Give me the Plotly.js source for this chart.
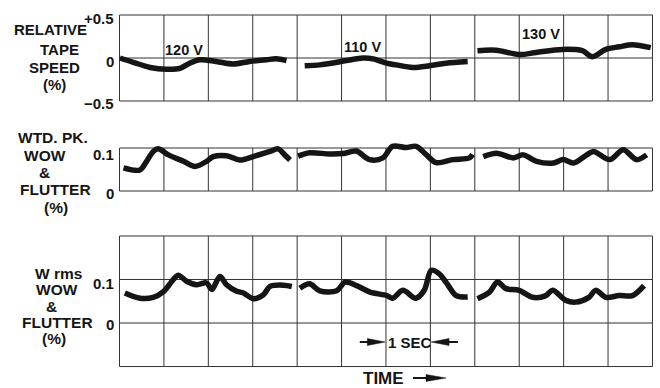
<!DOCTYPE html>
<html>
<head>
<meta charset="utf-8">
<script src="https://cdn.plot.ly/plotly-3.0.1.min.js"></script>
<style>html,body{margin:0;padding:0;background:#fff;}#chart{width:660px;height:388px;}</style>
</head>
<body>
<div id="chart"></div>
<script>
// ---------- DATA (time in seconds, values in %) ----------
const segmentNames = ['120 V', '110 V', '130 V'];

// Relative tape speed (%)
const tSpeed120 = [0.01,0.31,0.69,1.06,1.36,1.58,1.81,2.18,2.56,2.93,3.31,3.53,3.76];
const speed120  = [0.00,-0.05,-0.11,-0.13,-0.12,-0.06,-0.02,-0.04,-0.07,-0.04,-0.02,-0.01,-0.03];
const tSpeed110 = [4.17,4.51,4.73,5.11,5.48,5.71,6.01,6.23,6.60,6.98,7.35,7.84];
const speed110  = [-0.09,-0.08,-0.065,-0.03,0.00,-0.01,-0.06,-0.08,-0.11,-0.09,-0.06,-0.04];
const tSpeed130 = [8.06,8.48,9.01,9.38,9.97,10.42,10.65,10.95,11.25,11.55,11.96];
const speed130  = [0.085,0.09,0.04,0.065,0.10,0.085,0.015,0.10,0.13,0.155,0.12];

// Weighted peak wow & flutter (%)
const tPk120 = [0.09,0.46,0.61,0.76,0.87,1.10,1.44,1.70,1.96,2.11,2.41,2.71,3.01,3.39,3.57,3.72,3.84];
const pk120  = [0.054,0.049,0.069,0.092,0.098,0.084,0.069,0.057,0.069,0.080,0.082,0.072,0.080,0.092,0.098,0.084,0.072];
const tPk110 = [4.02,4.28,4.73,5.03,5.33,5.63,5.93,6.15,6.45,6.68,6.90,7.13,7.50,7.88,7.95];
const pk110  = [0.081,0.089,0.086,0.087,0.093,0.073,0.077,0.104,0.101,0.104,0.085,0.066,0.073,0.077,0.085];
const tPk130 = [8.19,8.49,8.87,9.09,9.39,9.77,9.99,10.22,10.52,10.67,11.04,11.34,11.64,11.87];
const pk130  = [0.080,0.088,0.077,0.084,0.069,0.065,0.073,0.065,0.084,0.092,0.073,0.096,0.073,0.084];

// Weighted rms wow & flutter (%)
const tRms120 = [0.12,0.46,0.76,0.99,1.18,1.32,1.51,1.74,1.96,2.08,2.26,2.41,2.64,2.79,3.01,3.24,3.39,3.69,3.88];
const rms120  = [0.069,0.057,0.059,0.072,0.096,0.110,0.096,0.088,0.092,0.077,0.107,0.088,0.073,0.069,0.056,0.065,0.084,0.087,0.084];
const tRms110 = [4.06,4.28,4.51,4.89,5.08,5.34,5.64,6.02,6.15,6.38,6.67,6.86,7.02,7.20,7.35,7.58,7.84];
const rms110  = [0.080,0.090,0.074,0.074,0.094,0.086,0.071,0.063,0.057,0.075,0.057,0.075,0.121,0.113,0.094,0.063,0.060];
const tRms130 = [8.06,8.33,8.51,8.70,9.00,9.30,9.60,9.75,10.05,10.27,10.57,10.72,10.95,11.25,11.55,11.81];
const rms130  = [0.056,0.071,0.094,0.079,0.075,0.059,0.063,0.075,0.052,0.048,0.059,0.075,0.059,0.063,0.063,0.086];

// Grid / ticks
const timeGrid = [0,1,2,3,4,5,6,7,8,9,10,11,12];
const speedGrid = [-0.5, 0, 0.5];
const pkGrid = [0, 0.1];
const rmsGrid = [-0.1, 0, 0.1, 0.2];
const speedTickVals = [0.5, 0, -0.5];
const speedTickText = ['+0.5', '0', '\u22120.5'];
const pkTickVals = [0.1, 0];
const pkTickText = ['0.1', '0'];
const rmsTickVals = [0.1, 0];
const rmsTickText = ['0.1', '0'];

// ---------- DRAWING ----------
const W = 660, H = 388;
const FONT = 'Liberation Sans, Arial, Helvetica, sans-serif';
const INK = '#151515';
const GRIDC = '#333333';
const px = v => v / W;
const py = v => 1 - v / H;

const panels = [
  {ax: '', segs: [[tSpeed120, speed120], [tSpeed110, speed110], [tSpeed130, speed130]], grid: speedGrid},
  {ax: '2', segs: [[tPk120, pk120], [tPk110, pk110], [tPk130, pk130]], grid: pkGrid},
  {ax: '3', segs: [[tRms120, rms120], [tRms110, rms110], [tRms130, rms130]], grid: rmsGrid}
];

const traces = [];
panels.forEach(p => {
  p.segs.forEach((s, i) => {
    traces.push({
      type: 'scatter', mode: 'lines', x: s[0], y: s[1],
      xaxis: 'x' + p.ax, yaxis: 'y' + p.ax, name: segmentNames[i],
      line: {color: INK, width: 5.5, shape: 'spline', smoothing: 0.9},
      hoverinfo: 'skip', showlegend: false
    });
  });
});

const shapes = [];
panels.forEach(p => {
  const lo = Math.min(...p.grid), hi = Math.max(...p.grid);
  timeGrid.forEach(t => shapes.push({type: 'line', xref: 'x' + p.ax, yref: 'y' + p.ax,
    x0: t, x1: t, y0: lo, y1: hi, line: {color: GRIDC, width: 1}, layer: 'below'}));
  p.grid.forEach(g => shapes.push({type: 'line', xref: 'x' + p.ax, yref: 'y' + p.ax,
    x0: timeGrid[0], x1: timeGrid[timeGrid.length - 1], y0: g, y1: g, line: {color: GRIDC, width: 1}, layer: 'below'}));
});

// "1 SEC" marker arrows (in data units of panel 3)
const secY = -0.0437, hh = 0.008;
shapes.push({type: 'line', xref: 'x3', yref: 'y3', x0: 5.41, x1: 5.75, y0: secY, y1: secY, line: {color: INK, width: 2}});
shapes.push({type: 'path', xref: 'x3', yref: 'y3', path: `M 5.98 ${secY} L 5.58 ${secY + hh} L 5.58 ${secY - hh} Z`, fillcolor: INK, line: {color: INK, width: 0.5}});
shapes.push({type: 'line', xref: 'x3', yref: 'y3', x0: 7.25, x1: 7.62, y0: secY, y1: secY, line: {color: INK, width: 2}});
shapes.push({type: 'path', xref: 'x3', yref: 'y3', path: `M 7.02 ${secY} L 7.42 ${secY + hh} L 7.42 ${secY - hh} Z`, fillcolor: INK, line: {color: INK, width: 0.5}});

// TIME arrow (paper)
shapes.push({type: 'line', xref: 'paper', yref: 'paper', x0: px(413), x1: px(430), y0: py(378), y1: py(378), line: {color: INK, width: 2}});
shapes.push({type: 'path', xref: 'paper', yref: 'paper',
  path: `M ${px(446)} ${py(378)} L ${px(426)} ${py(374.5)} L ${px(426)} ${py(381.5)} Z`, fillcolor: INK, line: {color: INK, width: 0.5}});

const ann = [];
function txt(text, x, y, size, opts) {
  ann.push(Object.assign({text: '<b>' + text + '</b>', x: px(x), y: py(y), xref: 'paper', yref: 'paper',
    showarrow: false, xanchor: 'center', yanchor: 'middle',
    font: {family: FONT, size: size, color: INK}}, opts || {}));
}
// axis titles (one line each)
[['RELATIVE', 50, 30], ['TAPE', 59, 50], ['SPEED', 54, 67], ['(%)', 54, 84]].forEach(a => txt(a[0], a[1], a[2], 15));
[['WTD. PK.', 53, 137], ['WOW', 45, 155.5], ['&', 44, 172], ['FLUTTER', 55, 189.5], ['(%)', 56, 207]].forEach(a => txt(a[0], a[1], a[2], 15.5));
[['W rms', 58, 273], ['WOW', 57, 289.5], ['&', 52, 306], ['FLUTTER', 57, 322.5], ['(%)', 54, 338.5]].forEach(a => txt(a[0], a[1], a[2], 15.5));

// tick labels
function ticks(vals, texts, axis, shifts, size) {
  vals.forEach((v, i) => ann.push({text: '<b>' + texts[i] + '</b>', x: px(116), y: v, xref: 'paper', yref: 'y' + axis,
    showarrow: false, xanchor: 'right', yanchor: 'middle', yshift: shifts[i],
    font: {family: FONT, size: size, color: INK}}));
}
ticks(speedTickVals, speedTickText, '', [-3, -3, -2], 15);
ticks(pkTickVals, pkTickText, '2', [-6, -2], 15);
ticks(rmsTickVals, rmsTickText, '3', [-4, -1], 15);

// voltage labels
[['120 V', 1.45, 0.093], ['110 V', 5.46, 0.128], ['130 V', 9.49, 0.279]].forEach(a =>
  ann.push({text: '<b>' + a[0] + '</b>', x: a[1], y: a[2], xref: 'x', yref: 'y', showarrow: false,
    xanchor: 'center', yanchor: 'middle', font: {family: FONT, size: 14.5, color: INK}}));

// 1 SEC and TIME
ann.push({text: '<b>1 SEC</b>', x: 6.55, y: secY, xref: 'x3', yref: 'y3', showarrow: false,
  xanchor: 'center', yanchor: 'middle', font: {family: FONT, size: 15, color: INK}});
txt('TIME', 383.5, 378.5, 17);

const xDom = [px(115.06), px(656.9)];
const xBase = {range: [-0.1, 12.1], visible: false, fixedrange: true};
const layout = {
  width: W, height: H,
  margin: {l: 0, r: 0, t: 0, b: 0},
  paper_bgcolor: '#fff', plot_bgcolor: 'rgba(0,0,0,0)',
  showlegend: false,
  xaxis:  Object.assign({domain: xDom, anchor: 'y'}, xBase),
  xaxis2: Object.assign({domain: xDom, anchor: 'y2'}, xBase),
  xaxis3: Object.assign({domain: xDom, anchor: 'y3'}, xBase),
  yaxis:  {domain: [py(102.72), py(13.28)], range: [-0.52, 0.52], visible: false, fixedrange: true, anchor: 'x'},
  yaxis2: {domain: [py(192.72), py(141.55)], range: [-0.004, 0.115], visible: false, fixedrange: true, anchor: 'x2'},
  yaxis3: {domain: [py(368.7), py(233.8)], range: [-0.105, 0.205], visible: false, fixedrange: true, anchor: 'x3'},
  shapes: shapes,
  annotations: ann
};

Plotly.newPlot('chart', traces, layout, {staticPlot: true, displayModeBar: false});
</script>
</body>
</html>
